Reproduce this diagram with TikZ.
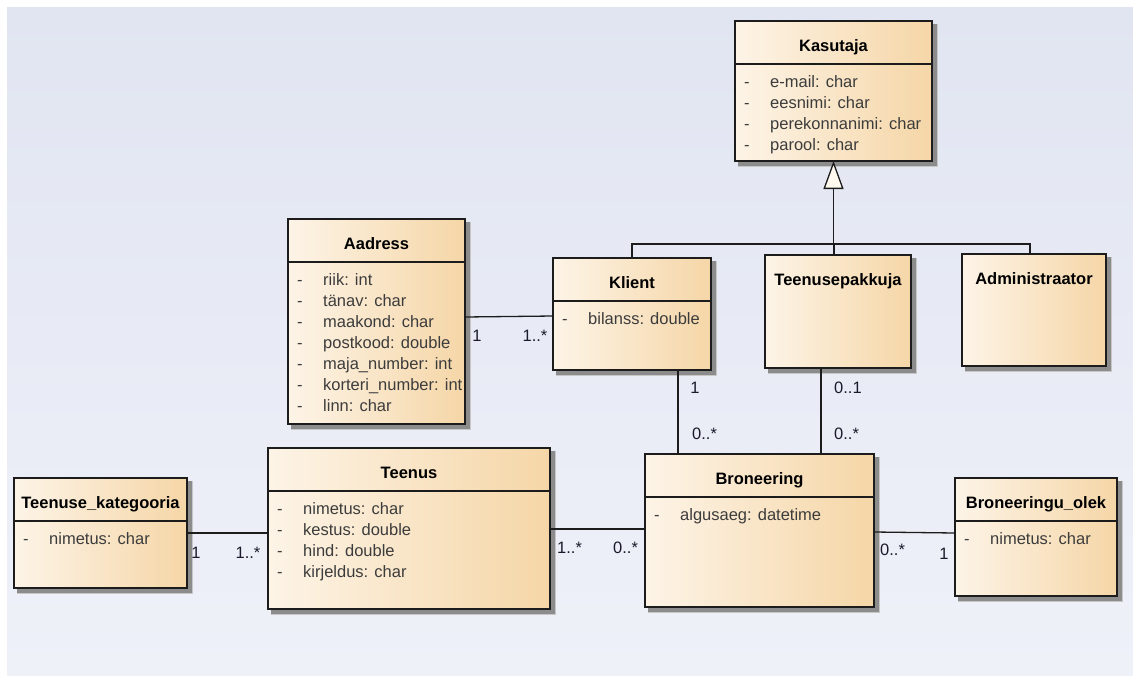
\documentclass[tikz,border=0pt]{standalone}
\usepackage{fontspec}
\setmainfont{Liberation Sans}
\usetikzlibrary{calc,arrows.meta}

\definecolor{bgtop}{HTML}{E1E5F1}
\definecolor{bgbot}{HTML}{EFF1F9}
\definecolor{clslight}{HTML}{FDF4E7}
\definecolor{clsdark}{HTML}{F5D6A7}
\definecolor{clsline}{HTML}{1C1C1C}
\definecolor{attrtext}{HTML}{3C3C3C}
\definecolor{multtext}{HTML}{1A1A2C}
\definecolor{trifill}{HTML}{FFF9EF}

\tikzset{
  umlbox/.style={draw=clsline, line width=1.4pt, left color=clslight, right color=clsdark,
    anchor=north west, inner sep=0pt, outer sep=0pt},
  umlshadow/.style={fill=black!45},
  umlsoft/.style={fill=black!22},
  umltitle/.style={anchor=base, inner sep=0pt, font=\fontsize{16.5}{21}\selectfont\bfseries},
  umlattr/.style={anchor=base west, inner sep=0pt, text=attrtext, font=\fontsize{16.5}{21}\selectfont},
  umlrule/.style={draw=clsline, line width=1.4pt},
  umlline/.style={draw=clsline, line width=1.3pt},
  mult/.style={inner sep=0pt, text=multtext, font=\fontsize{16.5}{21}\selectfont}
}

% name, x, y, width, height, title
\newcommand{\umlclass}[6]{%
  \fill[umlsoft] (#2+3,#3+3) rectangle ++(#4+3,#5+3);
  \fill[umlshadow] (#2+3,#3+3) rectangle ++(#4+1.5,#5+1.5);
  \node[umlbox, minimum width=#4pt, minimum height=#5pt] (#1) at (#2,#3) {};
  \node[umltitle] (#1-title) at ($(#1.north)+(0,30)$) {#6};
}
\newcommand{\umldivider}[1]{%
  \draw[umlrule] ($(#1.north west)+(0,43)$) -- ($(#1.north east)+(0,43)$);
}
\newcommand{\umlattrs}[2]{%
  \foreach \attr [count=\i] in {#2}
    \node[umlattr] (#1-a\i) at ($(#1.north west)+(9,45+21*\i)$) {\makebox[26pt][l]{-}\attr};
}

\begin{document}
\begin{tikzpicture}[x=1pt, y=-1pt]
\useasboundingbox (0,0) rectangle (1133,675);
\fill[white] (0,0) rectangle (1133,675);
\fill[top color=bgtop, bottom color=bgbot] (7,7) rectangle (1133,675);

\umlclass{kasutaja}{735}{21}{197}{140}{Kasutaja}
\umldivider{kasutaja}
\umlattrs{kasutaja}{e-mail: char, eesnimi: char, perekonnanimi: char, parool: char}

\umlclass{aadress}{288}{219}{177}{205}{Aadress}
\umldivider{aadress}
\umlattrs{aadress}{riik: int, tänav: char, maakond: char, postkood: double,
  maja\_number: int, korteri\_number: int, linn: char}

\umlclass{klient}{553}{258}{158}{112}{Klient}
\umldivider{klient}
\umlattrs{klient}{bilanss: double}

\umlclass{teenusepakkuja}{765}{255}{146}{113}{Teenusepakkuja}
\umlclass{administraator}{962}{254}{144}{112}{Administraator}

\umlclass{tkategooria}{14}{478}{173}{110}{Teenuse\_kategooria}
\umldivider{tkategooria}
\umlattrs{tkategooria}{nimetus: char}

\umlclass{teenus}{268}{448}{282}{161}{Teenus}
\umldivider{teenus}
\umlattrs{teenus}{nimetus: char, kestus: double, hind: double, kirjeldus: char}

\umlclass{broneering}{645}{454}{229}{153}{Broneering}
\umldivider{broneering}
\umlattrs{broneering}{algusaeg: datetime}

\umlclass{bolek}{955}{478}{162}{118}{Broneeringu\_olek}
\umldivider{bolek}
\umlattrs{bolek}{nimetus: char}

\draw[umlline] (klient.north) -- ++(0,-14) coordinate (genbar)
  -| ($(administraator.north west)+(68,0)$);
\draw[umlline] ($(teenusepakkuja.north west)+(69,0)$) coordinate (tpn) -- (tpn |- genbar);
\draw[umlline, -{Triangle[length=28pt, width=20pt, fill=trifill]}]
  (kasutaja.south |- genbar) -- (kasutaja.south);

\draw[umlline] ($(aadress.north east)+(0,98)$) -- ($(klient.north west)+(0,58)$);
\draw[umlline] ($(klient.south west)+(125,0)$) coordinate (kb) -- (kb |- broneering.north);
\draw[umlline] ($(teenusepakkuja.south west)+(56,0)$) coordinate (tb) -- (tb |- broneering.north);
\draw[umlline] ($(tkategooria.north east)+(0,55)$) coordinate (kt) -- (kt -| teenus.west);
\draw[umlline] ($(teenus.north east)+(0,81)$) coordinate (tr) -- (tr -| broneering.west);
\draw[umlline] ($(broneering.north east)+(0,78)$) -- ($(bolek.north west)+(0,55)$);

\node[mult, anchor=base] (m-aa) at (477,341) {1};
\node[mult, anchor=base] (m-ak) at (535,341) {1..*};
\node[mult, anchor=base] (m-kb1) at (695,393) {1};
\node[mult, anchor=base west] (m-kb2) at (692,439) {0..*};
\node[mult, anchor=base west] (m-tb1) at (834,393) {0..1};
\node[mult, anchor=base west] (m-tb2) at (834,439) {0..*};
\node[mult, anchor=base] (m-kt1) at (196,558) {1};
\node[mult, anchor=base] (m-kt2) at (248,558) {1..*};
\node[mult, anchor=base west] (m-tr1) at (557,553) {1..*};
\node[mult, anchor=base west] (m-tr2) at (613,553) {0..*};
\node[mult, anchor=base west] (m-bo1) at (880,555) {0..*};
\node[mult, anchor=base] (m-bo2) at (944,559) {1};
\end{tikzpicture}
\end{document}
